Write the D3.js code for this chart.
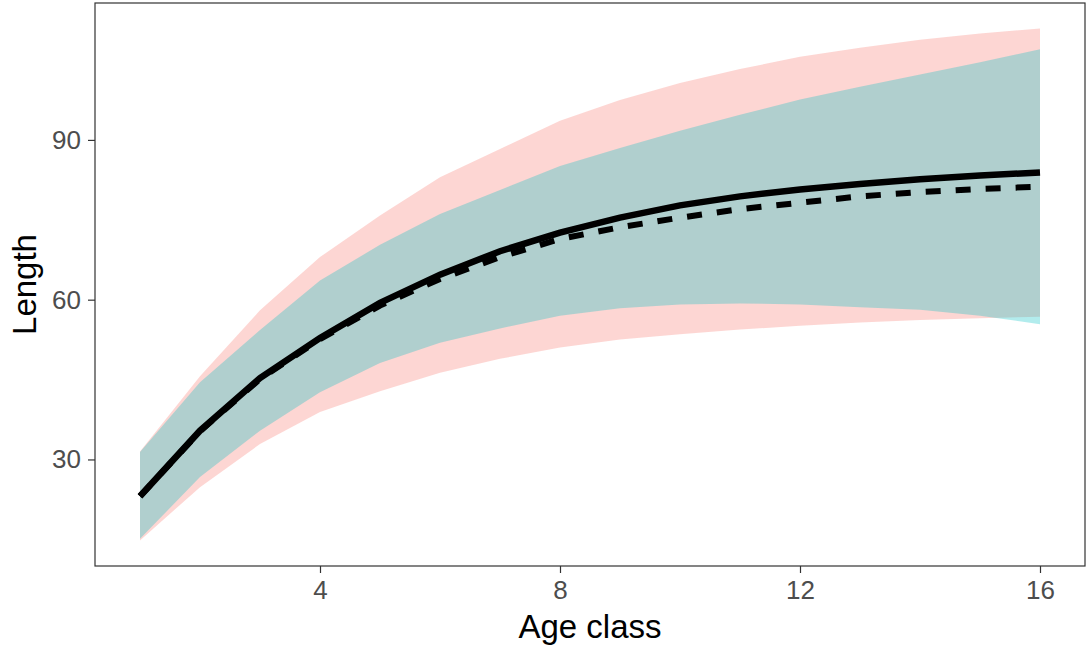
<!DOCTYPE html>
<html>
<head>
<meta charset="utf-8">
<script src="https://cdn.jsdelivr.net/npm/d3@7"></script>
<style>
  body { margin: 0; background: #fff; }
  text { font-family: "Liberation Sans", Arial, sans-serif; }
</style>
</head>
<body>
<svg id="chart" width="1088" height="652"></svg>
<script>
// age classes and the two growth curves
const ages = [1, 2, 3, 4, 5, 6, 7, 8, 9, 10, 11, 12, 13, 14, 15, 16];
const meanSolid  = [23.1, 35.4, 45.3, 52.8, 59.4, 64.7, 69.1, 72.6, 75.4, 77.7, 79.4, 80.7, 81.7, 82.6, 83.3, 83.9];
const meanDashed = [23.1, 35.3, 45.1, 52.6, 58.9, 63.9, 68.0, 71.4, 73.6, 75.4, 77.0, 78.2, 79.4, 80.2, 80.8, 81.2];

// ribbons (red group first, cyan group on top)
const redLower  = [14.8, 24.8, 32.9, 38.9, 42.8, 46.3, 48.9, 51.0, 52.5, 53.5, 54.4, 55.1, 55.7, 56.2, 56.5, 56.8];
const redUpper  = [31.5, 45.6, 58.0, 68.0, 75.8, 83.0, 88.3, 93.6, 97.5, 100.7, 103.3, 105.6, 107.3, 108.8, 110.0, 110.9];
const cyanLower = [15.1, 26.7, 35.4, 42.6, 48.1, 51.9, 54.6, 57.0, 58.4, 59.1, 59.3, 59.1, 58.6, 58.1, 57.0, 55.4];
const cyanUpper = [31.4, 44.5, 54.3, 63.6, 70.3, 76.1, 80.6, 85.1, 88.5, 91.7, 94.7, 97.6, 100.0, 102.3, 104.6, 107.0];

const xTicks = [4, 8, 12, 16];
const yTicks = [30, 60, 90];

const svg = d3.select("#chart");
const panel = {left: 95, right: 1085, top: 3, bottom: 566};

// ggplot style 5% expansion
function expand(ext) {
  const pad = (ext[1] - ext[0]) * 0.05;
  return [ext[0] - pad, ext[1] + pad];
}
const allY = [].concat(redLower, redUpper, cyanLower, cyanUpper, meanSolid, meanDashed);

const x = d3.scaleLinear().domain(expand(d3.extent(ages))).range([panel.left, panel.right]);
const y = d3.scaleLinear().domain(expand(d3.extent(allY))).range([panel.bottom, panel.top]);

function ribbon(lo, hi) {
  return d3.area()
    .x((d, i) => x(ages[i]))
    .y0((d, i) => y(lo[i]))
    .y1((d, i) => y(hi[i]))(ages);
}

svg.append("path").attr("d", ribbon(redLower, redUpper))
  .attr("fill", "#F8766D").attr("fill-opacity", 0.3);
svg.append("path").attr("d", ribbon(cyanLower, cyanUpper))
  .attr("fill", "#00BFC4").attr("fill-opacity", 0.3);

let line = d3.line().x((d, i) => x(ages[i])).y(d => y(d));

svg.append("path").attr("d", line(meanDashed))
  .attr("fill", "none").attr("stroke", "#000").attr("stroke-width", 6)
  .attr("stroke-dasharray", "15,15");
svg.append("path").attr("d", line(meanSolid))
  .attr("fill", "none").attr("stroke", "#000").attr("stroke-width", 6.5);

// panel border
svg.append("rect")
  .attr("x", panel.left).attr("y", panel.top)
  .attr("width", panel.right - panel.left).attr("height", panel.bottom - panel.top)
  .attr("fill", "none").attr("stroke", "#333").attr("stroke-width", 1.2);

// axes
const xAxis = svg.append("g")
  .attr("transform", `translate(0,${panel.bottom})`)
  .call(d3.axisBottom(x).tickValues(xTicks).tickSize(7).tickPadding(8));
const yAxis = svg.append("g")
  .attr("transform", `translate(${panel.left},0)`)
  .call(d3.axisLeft(y).tickValues(yTicks).tickSize(7).tickPadding(7));

[xAxis, yAxis].forEach(g => {
  g.select(".domain").remove();
  g.selectAll(".tick line").attr("stroke", "#333").attr("stroke-width", 1.2);
  g.selectAll(".tick text").attr("fill", "#4D4D4D")
    .style("font-size", "26px").style("font-family", "Liberation Sans, Arial, sans-serif");
});

svg.append("text")
  .attr("x", (panel.left + panel.right) / 2).attr("y", 638)
  .attr("text-anchor", "middle").style("font-size", "33px").attr("fill", "#000")
  .text("Age class");

svg.append("text")
  .attr("transform", `translate(36,${(panel.top + panel.bottom) / 2}) rotate(-90)`)
  .attr("text-anchor", "middle").style("font-size", "33px").attr("fill", "#000")
  .text("Length");
</script>
</body>
</html>
